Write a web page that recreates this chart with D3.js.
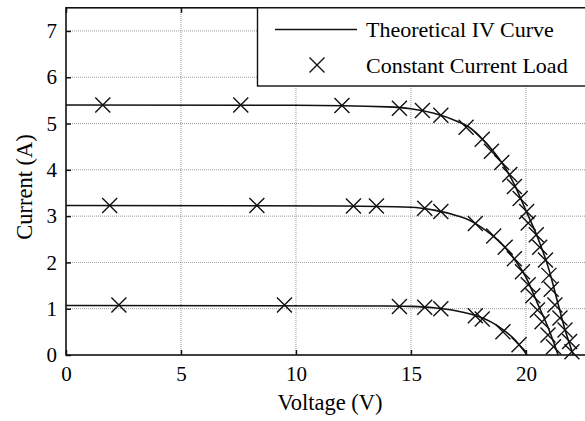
<!DOCTYPE html>
<html>
<head>
<meta charset="utf-8">
<script src="https://cdn.jsdelivr.net/npm/d3@7"></script>
<style>
  html, body { margin: 0; padding: 0; background: #fff; }
  svg { display: block; }
  text { font-family: "Liberation Serif", "DejaVu Serif", serif; fill: #000; }
</style>
</head>
<body>
<div id="chart"></div>
<script>
// theoretical curves (V, A)
var curveHigh = [[0, 5.40], [10, 5.395], [14, 5.36], [15, 5.32], [16, 5.22], [17, 5.05], [17.5, 4.93],
    [18, 4.72], [18.5, 4.45], [19, 4.12], [19.5, 3.68], [20, 3.12], [20.5, 2.55], [21, 1.85],
    [21.4, 1.1], [21.7, 0.55], [22.06, 0]];
var curveMid = [[0, 3.23], [12, 3.22], [15, 3.19], [16, 3.13], [17, 3.01], [17.5, 2.92], [18, 2.78],
    [18.5, 2.6], [19, 2.37], [19.5, 2.07], [20, 1.68], [20.5, 1.12], [21, 0.55], [21.4, 0]];
var curveLow = [[0, 1.07], [14, 1.06], [15, 1.05], [16, 1.02], [17, 0.95], [18, 0.82], [18.5, 0.71],
    [19, 0.55], [19.5, 0.34], [20.05, 0]];

// constant current load measurements
var loadHigh = [[1.6, 5.40], [7.6, 5.40], [12.0, 5.39], [14.5, 5.33], [15.5, 5.28], [16.3, 5.18],
    [17.4, 4.92], [18.1, 4.66], [18.5, 4.40], [18.95, 4.16], [19.3, 3.90], [19.5, 3.64],
    [19.75, 3.38], [20.03, 3.10], [20.1, 2.85], [20.45, 2.60], [20.6, 2.33], [20.85, 2.05],
    [21.0, 1.72], [21.1, 1.42], [21.26, 1.08], [21.48, 0.80], [21.7, 0.54], [21.9, 0.29], [22.0, 0.07]];
var loadMid = [[1.9, 3.23], [8.3, 3.23], [12.5, 3.22], [13.5, 3.22], [15.6, 3.17], [16.3, 3.10],
    [17.8, 2.84], [18.6, 2.57], [19.1, 2.33], [19.5, 2.08], [19.85, 1.80], [20.1, 1.52],
    [20.3, 1.28], [20.5, 0.97], [20.7, 0.72], [20.96, 0.43], [21.2, 0.18]];
var loadLow = [[2.3, 1.08], [9.5, 1.08], [14.5, 1.05], [15.6, 1.03], [16.3, 1.00], [17.8, 0.85],
    [18.1, 0.78], [19.0, 0.50], [19.7, 0.22]];

var xTicks = [0, 5, 10, 15, 20];
var yTicks = [0, 1, 2, 3, 4, 5, 6, 7];
var legendLabels = ["Theoretical IV Curve", "Constant Current Load"];

var width = 585, height = 421;
var plotLeft = 66, plotRight = 588, plotTop = 7.8, plotBottom = 355;

var svg = d3.select("#chart")
    .append("svg")
    .attr("width", width)
    .attr("height", height);

var x = d3.scaleLinear().domain([0, 22.7]).range([plotLeft, plotRight]);
var y = d3.scaleLinear().domain([0, 7.5]).range([plotBottom, plotTop]);

var plot = svg.append("g");

// dotted grid
plot.selectAll(".gridX")
    .data(xTicks.filter(function(d) { return d > 0; }))
    .enter()
    .append("line")
    .attr("class", "gridX")
    .attr("x1", function(d) { return x(d); })
    .attr("x2", function(d) { return x(d); })
    .attr("y1", y(0))
    .attr("y2", y(7.5))
    .attr("stroke", "#9a9a9a")
    .attr("stroke-width", 1)
    .attr("stroke-dasharray", "1,1");

plot.selectAll(".gridY")
    .data(yTicks.filter(function(d) { return d > 0; }))
    .enter()
    .append("line")
    .attr("class", "gridY")
    .attr("x1", x(0))
    .attr("x2", x(22.7))
    .attr("y1", function(d) { return y(d); })
    .attr("y2", function(d) { return y(d); })
    .attr("stroke", "#9a9a9a")
    .attr("stroke-width", 1)
    .attr("stroke-dasharray", "1,1");

// axes with inward ticks
var xAxis = svg.append("g")
    .attr("transform", "translate(0," + plotBottom + ")")
    .call(d3.axisBottom(x).tickValues(xTicks).tickSizeInner(-5).tickSizeOuter(0).tickPadding(11));
var xAxisTop = svg.append("g")
    .attr("transform", "translate(0," + plotTop + ")")
    .call(d3.axisTop(x).tickValues(xTicks).tickSizeInner(-5).tickSizeOuter(0).tickFormat(""));
var yAxis = svg.append("g")
    .attr("transform", "translate(" + plotLeft + ",0)")
    .call(d3.axisLeft(y).tickValues(yTicks).tickSizeInner(-5).tickSizeOuter(0).tickPadding(9));

[xAxis, xAxisTop, yAxis].forEach(function(ax) {
    ax.select(".domain").remove();
    ax.selectAll(".tick line").attr("stroke", "#111").attr("stroke-width", 1.5);
    ax.selectAll("text")
        .attr("font-family", "Liberation Serif, serif")
        .attr("font-size", 21)
        .attr("fill", "#000");
});

// theoretical curves
var line = d3.line()
    .x(function(d) { return x(d[0]); })
    .y(function(d) { return y(d[1]); })
    .curve(d3.curveMonotoneX);

plot.selectAll(".ivCurve")
    .data([curveHigh, curveMid, curveLow])
    .enter()
    .append("path")
    .attr("class", "ivCurve")
    .attr("d", line)
    .attr("fill", "none")
    .attr("stroke", "#111")
    .attr("stroke-width", 1.6);

// X markers
var cross = function(sel, size) {
    sel.append("path")
        .attr("d", "M" + (-size) + "," + (-size) + "L" + size + "," + size +
                   "M" + (-size) + "," + size + "L" + size + "," + (-size))
        .attr("stroke", "#111")
        .attr("stroke-width", 1.4)
        .attr("fill", "none");
};

var loads = loadHigh.concat(loadMid, loadLow);
plot.selectAll(".loadPoint")
    .data(loads)
    .enter()
    .append("g")
    .attr("class", "loadPoint")
    .attr("transform", function(d) { return "translate(" + x(d[0]) + "," + y(d[1]) + ")"; })
    .call(cross, 7.5);

// frame
svg.append("rect")
    .attr("x", plotLeft)
    .attr("y", plotTop)
    .attr("width", plotRight - plotLeft)
    .attr("height", plotBottom - plotTop)
    .attr("fill", "none")
    .attr("stroke", "#111")
    .attr("stroke-width", 1.6);

// legend
var legend = svg.append("g");
legend.append("rect")
    .attr("x", 257.5)
    .attr("y", plotTop)
    .attr("width", 340)
    .attr("height", 86 - plotTop)
    .attr("fill", "#fff")
    .attr("stroke", "#111")
    .attr("stroke-width", 1.4);
legend.append("line")
    .attr("x1", 275).attr("x2", 357)
    .attr("y1", 29.5).attr("y2", 29.5)
    .attr("stroke", "#111")
    .attr("stroke-width", 1.6);
legend.append("g")
    .attr("transform", "translate(317,65)")
    .call(cross, 7.5);
legend.selectAll(".legendText")
    .data(legendLabels)
    .enter()
    .append("text")
    .attr("class", "legendText")
    .attr("x", 366)
    .attr("y", function(d, i) { return 37 + i * 35.5; })
    .attr("font-size", 22)
    .text(function(d) { return d; });

// axis titles
svg.append("text")
    .attr("x", 330)
    .attr("y", 410)
    .attr("text-anchor", "middle")
    .attr("font-size", 22.5)
    .text("Voltage (V)");
svg.append("text")
    .attr("transform", "translate(32,187) rotate(-90)")
    .attr("text-anchor", "middle")
    .attr("font-size", 22.5)
    .text("Current (A)");
</script>
</body>
</html>
